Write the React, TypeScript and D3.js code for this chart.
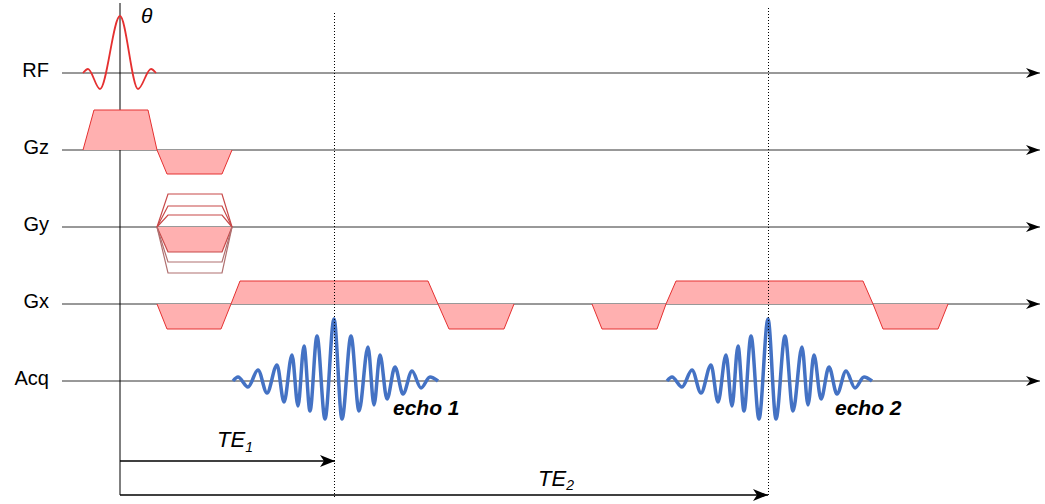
import React from "react";
import * as d3 from "d3";

// Channel rows of the pulse sequence diagram
const channels = ["RF", "Gz", "Gy", "Gx", "Acq"];

// Echo times (time units, RF centre at 0)
const echoTimes = [214, 648];
const echoLabels = ["echo 1", "echo 2"];

// RF sinc pulse: [time, amplitude] extrema
const rfPulse: [number, number][] = [
  [-37, 0], [-32, 4], [-20, -16], [0, 57], [18, -16], [31, 4], [36, 0],
];

// Gradient lobes: [rampStart, flatStart, flatEnd, rampEnd, amplitude]
const gzLobes: [number, number, number, number, number][] = [
  [-37, -26, 28, 37, 40],
  [37, 47, 102, 112, -24],
];
const gxLobes: [number, number, number, number, number][] = [
  [37, 47, 101, 111, -25],
  [111, 120, 308, 318, 23],
  [318, 329, 384, 394, -25],
  [472, 482, 537, 546, -25],
  [546, 556, 743, 753, 23],
  [753, 763, 818, 828, -25],
];

// Phase-encode table timing and step amplitudes
const gyTiming: [number, number, number, number] = [37, 48, 102, 112];
const gySteps = [33, 21, 12, -25, -35, -46];
const gyActiveStep = -25;

// Echo signal: [time offset from echo centre, amplitude] extrema
const echoShape: [number, number][] = [
  [-101, 0], [-96, 4], [-86, -6], [-76, 11], [-67, -12], [-57, 16], [-50, -21],
  [-42, 26], [-36, -25], [-30, 35], [-24, -30], [-17, 45], [-9, -38], [0, 62],
  [8, -38], [17, 45], [25, -30], [34, 34], [40, -24], [46, 26], [53, -18],
  [61, 14], [69, -13], [78, 10], [87, -7], [96, 4], [104, 0],
];

const WIDTH = 1045;
const HEIGHT = 504;
const FONT = "Arial, 'Liberation Sans', sans-serif";

const x = d3.scaleLinear().domain([-58, 922]).range([62, 1042]);
const row = d3.scalePoint<string>().domain(channels).range([73, 381]);

const RED = "#e53030";
const FILL = "#ffb0b0";
const BLUE = "#4472c4";

function lobePath(l: [number, number, number, number, number], base: number) {
  const [t0, t1, t2, t3, a] = l;
  const p = d3.path();
  p.moveTo(x(t0), base);
  p.lineTo(x(t1), base - a);
  p.lineTo(x(t2), base - a);
  p.lineTo(x(t3), base);
  return p.toString();
}

export default function App() {
  const wave = (base: number, shift: number) =>
    d3
      .line<[number, number]>()
      .x((d) => x(d[0] + shift))
      .y((d) => base - d[1])
      .curve(d3.curveMonotoneX);

  const yGz = row("Gz")!;
  const yGy = row("Gy")!;
  const yGx = row("Gx")!;
  const yAcq = row("Acq")!;
  const yRF = row("RF")!;

  const te1Y = 461;
  const te2Y = 495;

  return (
    <svg
      width={WIDTH}
      height={HEIGHT}
      style={{ position: "absolute", left: 0, top: 0, background: "#fff" }}
    >
      <defs>
        <marker id="axisArrow" markerUnits="userSpaceOnUse" markerWidth={14} markerHeight={10} refX={14} refY={5} orient="auto">
          <path d="M0,0 L14,5 L0,10 L4,5 Z" fill="#000" />
        </marker>
        <marker id="teArrow" markerUnits="userSpaceOnUse" markerWidth={15} markerHeight={12} refX={15} refY={6} orient="auto">
          <path d="M0,0 L15,6 L0,12 L4,6 Z" fill="#000" />
        </marker>
      </defs>

      {/* channel time axes */}
      {channels.map((c) => (
        <g key={c}>
          <line x1={x(-58)} x2={x(922) - 2} y1={row(c)} y2={row(c)} stroke="#333" strokeWidth={1} markerEnd="url(#axisArrow)" />
          <text x={49} y={row(c)! + 4} textAnchor="end" fontFamily={FONT} fontSize={20} fill="#000">
            {c}
          </text>
        </g>
      ))}

      {/* RF centre reference */}
      <line x1={x(0)} x2={x(0)} y1={3} y2={te2Y} stroke="#000" strokeWidth={1} />

      {/* slice-select gradient */}
      {gzLobes.map((l, i) => (
        <g key={i}>
          <path d={lobePath(l, yGz) + "Z"} fill={FILL} stroke="none" />
          <path d={lobePath(l, yGz)} fill="none" stroke={RED} strokeWidth={1} />
        </g>
      ))}

      {/* phase-encode table */}
      <path d={lobePath([...gyTiming, gyActiveStep], yGy) + "Z"} fill={FILL} stroke="none" />
      {gySteps.map((a, i) => (
        <path key={i} d={lobePath([...gyTiming, a], yGy)} fill="none" stroke={a < 0 && a !== gyActiveStep ? "#b07070" : "#c84848"} strokeWidth={1.2} />
      ))}

      {/* readout gradient */}
      {gxLobes.map((l, i) => (
        <path key={"f" + i} d={lobePath(l, yGx) + "Z"} fill={FILL} stroke="none" />
      ))}
      {gxLobes.map((l, i) => (
        <path key={"s" + i} d={lobePath(l, yGx)} fill="none" stroke={RED} strokeWidth={1} />
      ))}

      {/* RF excitation */}
      <path d={wave(yRF, 0)(rfPulse)!} fill="none" stroke={RED} strokeWidth={1.8} />
      <text x={141} y={23} fontFamily={FONT} fontSize={21} fontStyle="italic" fill="#000">θ</text>

      {/* echoes */}
      {echoTimes.map((te, i) => (
        <path key={i} d={wave(yAcq, te)(echoShape)!} fill="none" stroke={BLUE} strokeWidth={3.5} strokeLinejoin="round" />
      ))}
      {echoTimes.map((te, i) => (
        <text key={i} x={x(te) + 59 + (i === 1 ? 8 : 0)} y={415} fontFamily={FONT} fontSize={21} fontWeight="bold" fontStyle="italic" fill="#000">
          {echoLabels[i]}
        </text>
      ))}

      {/* echo centre markers */}
      {echoTimes.map((te, i) => (
        <line key={i} x1={x(te) + 0.5} x2={x(te) + 0.5} y1={i === 0 ? 13 : 8} y2={497} stroke="#000" strokeWidth={1} strokeDasharray="1,2" />
      ))}

      {/* echo time arrows */}
      <line x1={x(0)} x2={x(echoTimes[0]) + 1} y1={te1Y} y2={te1Y} stroke="#000" strokeWidth={1.5} markerEnd="url(#teArrow)" />
      <line x1={x(0)} x2={x(echoTimes[1])} y1={te2Y} y2={te2Y} stroke="#000" strokeWidth={1.5} markerEnd="url(#teArrow)" />
      <text x={217} y={447} fontFamily={FONT} fontSize={22} fontStyle="italic" fill="#000">
        TE<tspan fontSize={14} dy={5}>1</tspan>
      </text>
      <text x={538} y={486} fontFamily={FONT} fontSize={22} fontStyle="italic" fill="#000">
        TE<tspan fontSize={14} dy={4}>2</tspan>
      </text>
    </svg>
  );
}
